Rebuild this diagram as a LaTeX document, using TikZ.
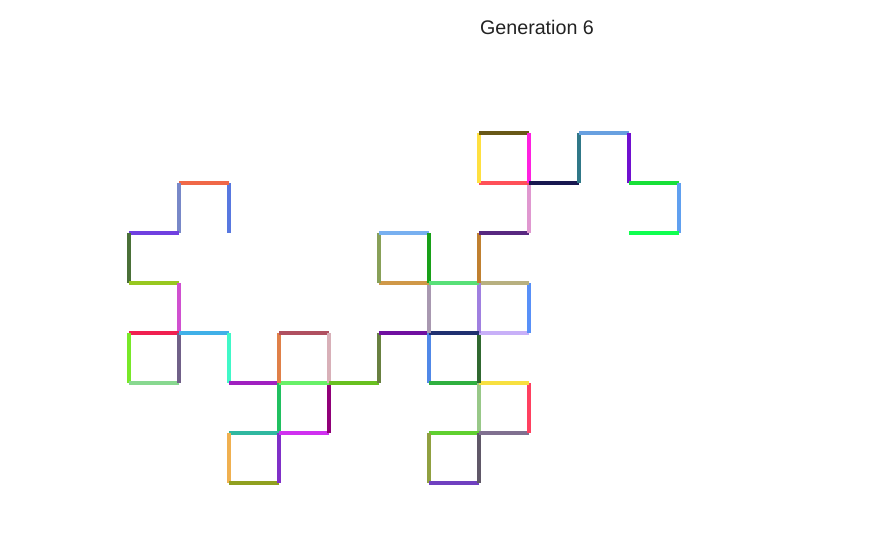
\documentclass[tikz,border=0pt]{standalone}
\usepackage{fontspec}
\setmainfont{Liberation Sans}
\usepackage{xcolor}
\usepackage{tikz}
\definecolor{titlegrey}{RGB}{34,34,34}

\begin{document}
\begin{tikzpicture}[
  x=1cm, y=1cm,
  seg/.style={line width=2.2pt, line cap=square},
  title/.style={font=\fontsize{11.2}{13}\selectfont, text=titlegrey}
]
  \useasboundingbox (-2.58,-1.4) rectangle (14.8,9.66);

  \node[title] (gen) at (8.16,9.12) {Generation 6};

  % dragon curve, one colour per step
  \foreach \px/\py/\col [remember=\px as \qx (initially 2), remember=\py as \qy (initially 5)] in {
    2/6/5878E0, 1/6/F06848, 1/5/7888C8, 0/5/7040E0,
    0/4/4A7038, 1/4/98C820, 1/3/D050D0, 0/3/F02050,
    0/2/78E828, 1/2/88D890, 1/3/706088, 2/3/40B0E8,
    2/2/40F8C8, 3/2/A020C0, 3/1/20C060, 2/1/30B8A0,
    2/0/F0B050, 3/0/90A020, 3/1/8030C8, 4/1/D030F0,
    4/2/900078, 3/2/68F068, 3/3/E08048, 4/3/B05060,
    4/2/D8B0B8, 5/2/68C020, 5/3/688040, 6/3/7010A0,
    6/2/5088E8, 7/2/30B040, 7/1/98C888, 6/1/60D030,
    6/0/90A040, 7/0/7040C0, 7/1/605868, 8/1/807090,
    8/2/FF4060, 7/2/F8E040, 7/3/306830, 8/3/C8B0F8,
    8/4/5890F8, 7/4/B8B080, 7/3/A080E0, 6/3/203070,
    6/4/A898B0, 5/4/D09848, 5/5/88A058, 6/5/78B0F0,
    6/4/18A018, 7/4/58E078, 7/5/C08030, 8/5/582880,
    8/6/E098D0, 7/6/FF5058, 7/7/FFE040, 8/7/685818,
    8/6/FF20E0, 9/6/181850, 9/7/307888, 10/7/68A0E0,
    10/6/7010D0, 11/6/18E038, 11/5/60A0F0, 10/5/10FF50}
  {
    \definecolor{segcol}{HTML}{\col}
    \draw[seg, segcol] (\qx,\qy) -- (\px,\py);
  }
\end{tikzpicture}
\end{document}
